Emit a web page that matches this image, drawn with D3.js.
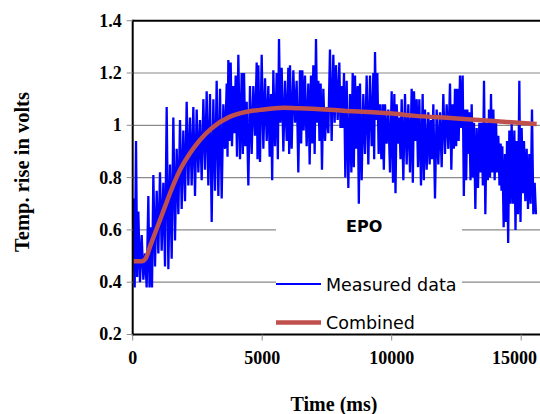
<!DOCTYPE html>
<html>
<head>
<meta charset="utf-8">
<script src="https://cdn.jsdelivr.net/npm/d3@7"></script>
<style>
  body { margin: 0; background: #fff; }
  svg { display: block; }
</style>
</head>
<body>
<div id="chart"></div>
<script>
// measured trace as [time ms, local high, following low]
const measured = [
  [25, 0.72, 0.38], [128, 0.94, 0.42], [218, 0.67, 0.40], [347, 0.58, 0.41], [475, 0.51, 0.38],
  [604, 0.73, 0.38], [694, 0.61, 0.38], [797, 0.81, 0.46], [926, 0.75, 0.51], [1054, 0.82, 0.52],
  [1183, 0.78, 0.46], [1312, 1.07, 0.45], [1441, 0.85, 0.49], [1569, 1.03, 0.56], [1698, 0.91, 0.66],
  [1827, 1.02, 0.68], [1955, 0.98, 0.71], [2084, 1.09, 0.77], [2213, 1.03, 0.77], [2341, 1.07, 0.73],
  [2470, 1.06, 0.82], [2599, 1.02, 0.79], [2728, 1.10, 0.83], [2856, 1.13, 0.77],
  [2985, 1.12, 0.63], [3114, 1.10, 0.75], [3242, 1.17, 0.73], [3371, 1.14, 0.72], [3500, 1.08, 0.91],
  [3629, 1.16, 0.88], [3693, 1.25, 0.94], [3783, 1.24, 0.92], [3886, 1.15, 0.97], [3976, 1.19, 0.88],
  [4079, 1.27, 0.87], [4208, 1.20, 0.89], [4298, 1.20, 0.92], [4401, 1.09, 0.77], [4529, 1.15, 0.89],
  [4658, 1.15, 0.96], [4787, 1.24, 0.87], [4851, 1.23, 0.86], [4980, 1.27, 0.91], [5109, 1.18, 0.94],
  [5237, 1.15, 0.88], [5340, 1.12, 0.79], [5430, 1.21, 0.92], [5559, 1.20, 0.87], [5649, 1.33, 1.01],
  [5752, 1.22, 0.90], [5881, 1.17, 0.94], [6009, 1.22, 0.89],
  [6073, 1.23, 0.91], [6202, 1.21, 1.01], [6330, 1.17, 0.82], [6459, 1.21, 0.93], [6549, 1.21, 0.98],
  [6652, 1.19, 0.92], [6781, 1.16, 0.85], [6884, 1.19, 0.93], [6974, 1.23, 0.89], [7077, 1.33, 1.01],
  [7167, 1.17, 0.94], [7257, 1.16, 0.83], [7360, 1.14, 0.94], [7489, 1.07, 0.97], [7617, 1.29, 0.94],
  [7746, 1.27, 1.01], [7849, 1.23, 1.02], [7978, 1.24, 0.99], [8068, 1.15, 0.99], [8158, 1.20, 0.80],
  [8261, 1.17, 0.76], [8390, 1.12, 0.82], [8493, 1.20, 0.84], [8583, 1.19, 0.91], [8686, 1.15, 0.70],
  [8776, 1.16, 0.79], [8904, 1.12, 0.89], [9033, 1.19, 0.85],
  [9162, 1.19, 0.92], [9291, 1.20, 0.87], [9355, 1.28, 1.02], [9445, 1.20, 0.89], [9548, 1.08, 0.87],
  [9651, 1.08, 0.83], [9741, 1.08, 0.93], [9870, 1.06, 0.82], [9999, 1.13, 0.78], [10102, 1.12, 0.74],
  [10192, 1.08, 0.93], [10295, 1.03, 0.87], [10385, 1.10, 0.79], [10513, 1.12, 0.85], [10642, 1.08, 0.82],
  [10771, 1.14, 0.78], [10861, 1.13, 0.94], [10964, 1.10, 0.84], [11067, 1.10, 0.77], [11195, 1.12, 0.79],
  [11286, 1.06, 0.83], [11414, 1.05, 0.85], [11517, 1.02, 0.87], [11607, 1.08, 0.72], [11736, 1.06, 0.85],
  [11865, 1.05, 0.84], [11993, 1.12, 0.89], [12122, 1.08, 0.91],
  [12251, 1.16, 0.83], [12354, 1.08, 0.91], [12444, 1.14, 0.92], [12534, 1.14, 0.94], [12637, 1.19, 0.99],
  [12740, 1.19, 0.73], [12830, 1.06, 0.79], [12920, 1.06, 0.89], [12997, 1.05, 0.79], [13088, 1.08, 0.80],
  [13178, 1.01, 0.68], [13281, 0.99, 0.76], [13384, 1.01, 0.82], [13474, 1.01, 0.77], [13564, 1.17, 0.66],
  [13667, 1.01, 0.79], [13757, 1.06, 0.80], [13834, 1.12, 0.82], [13924, 1.06, 0.79], [14027, 1.02, 0.82],
  [14117, 0.96, 0.77], [14207, 0.93, 0.75], [14271, 0.92, 0.61], [14374, 0.89, 0.63], [14452, 0.94, 0.55],
  [14542, 0.98, 0.70], [14632, 1.01, 0.70], [14735, 0.98, 0.60], [14825, 0.94, 0.66], [14928, 1.17, 0.63],
  [15018, 0.99, 0.74], [15108, 0.94, 0.71], [15211, 0.91, 0.68], [15314, 0.89, 0.70], [15417, 1.06, 0.66],
  [15520, 0.78, 0.66]
];

// combined fit, [time ms, volts]
const combined = [
  [0, 0.48], [350, 0.48], [500, 0.49], [668, 0.536], [861, 0.587], [1054, 0.638], [1250, 0.69],
  [1440, 0.74], [1826, 0.829], [2212, 0.893], [2598, 0.944], [3050, 0.989], [3757, 1.033],
  [4402, 1.052], [4915, 1.059], [5815, 1.067], [6460, 1.065], [8131, 1.056], [9935, 1.046],
  [10834, 1.037], [12378, 1.027], [13795, 1.017], [15598, 1.005]
];

const yTicks = [0.2, 0.4, 0.6, 0.8, 1.0, 1.2, 1.4];
const xTicks = [0, 5000, 10000, 15000];
const legendLabels = ["Measured data", "Combined"];
const annotation = "EPO";

const width = 540, height = 414;
const plot = { left: 132.7, top: 20.7, bottom: 334.5 };

const x = d3.scaleLinear().domain([0, 16000]).range([plot.left, plot.left + 16000 * 129.5 / 5000]);
const y = d3.scaleLinear().domain([0.2, 1.4]).range([plot.bottom, plot.top]);

const svg = d3.select("#chart").append("svg")
  .attr("width", width)
  .attr("height", height);

// gridlines
svg.append("g")
  .selectAll("line")
  .data(yTicks.filter(d => d > 0.2 && d < 1.4))
  .enter().append("line")
  .attr("x1", plot.left).attr("x2", width)
  .attr("y1", d => y(d)).attr("y2", d => y(d))
  .attr("stroke", "#8a8a8a")
  .attr("stroke-width", 1.2);

// white box behind the legend and label
svg.append("rect")
  .attr("x", 276).attr("y", 212)
  .attr("width", 186).attr("height", plot.bottom - 213)
  .attr("fill", "#fff");

// measured trace: each high followed by its low halfway to the next reading
const measuredPoints = [];
measured.forEach((d, i) => {
  const next = i < measured.length - 1 ? measured[i + 1][0] : d[0] + 100;
  measuredPoints.push([d[0], d[1]]);
  measuredPoints.push([(d[0] + next) / 2, d[2]]);
});

const line = d3.line().x(d => x(d[0])).y(d => y(d[1]));

svg.append("path")
  .datum(measuredPoints)
  .attr("d", line)
  .attr("fill", "none")
  .attr("stroke", "#0000ff")
  .attr("stroke-width", 2.3)
  .attr("stroke-linejoin", "miter");

svg.append("path")
  .datum(combined)
  .attr("d", line.curve(d3.curveMonotoneX))
  .attr("fill", "none")
  .attr("stroke", "#c0504d")
  .attr("stroke-width", 4.5);

// axes frame
svg.append("line")
  .attr("x1", plot.left).attr("x2", width)
  .attr("y1", plot.top).attr("y2", plot.top)
  .attr("stroke", "#000").attr("stroke-width", 2);
svg.append("line")
  .attr("x1", plot.left).attr("x2", width)
  .attr("y1", plot.bottom).attr("y2", plot.bottom)
  .attr("stroke", "#000").attr("stroke-width", 2);
svg.append("line")
  .attr("x1", plot.left).attr("x2", plot.left)
  .attr("y1", plot.top - 1).attr("y2", plot.bottom + 1)
  .attr("stroke", "#000").attr("stroke-width", 2);

// y ticks and labels
const yt = svg.append("g").selectAll("g").data(yTicks).enter().append("g");
yt.append("line")
  .attr("x1", plot.left - 6).attr("x2", plot.left)
  .attr("y1", d => y(d)).attr("y2", d => y(d))
  .attr("stroke", "#8a8a8a");
yt.append("text")
  .attr("x", plot.left - 11)
  .attr("y", d => y(d))
  .attr("dy", "0.33em")
  .attr("text-anchor", "end")
  .attr("font-family", "Liberation Serif, Times New Roman, serif")
  .attr("font-weight", "bold")
  .attr("font-size", 18)
  .text(d => d === 1 ? "1" : d3.format(".1f")(d));

// x ticks and labels
const xt = svg.append("g").selectAll("g").data(xTicks).enter().append("g");
xt.append("line")
  .attr("x1", d => x(d)).attr("x2", d => x(d))
  .attr("y1", plot.bottom).attr("y2", plot.bottom + 6)
  .attr("stroke", "#8a8a8a");
xt.append("text")
  .attr("x", d => x(d))
  .attr("y", 364)
  .attr("text-anchor", "middle")
  .attr("font-family", "Liberation Serif, Times New Roman, serif")
  .attr("font-weight", "bold")
  .attr("font-size", 18)
  .text(d => d)
  .each(function () {
    // keep the last label inside the picture, as the original does
    const box = this.getBBox();
    if (box.x + box.width > width - 3) {
      d3.select(this).attr("x", +d3.select(this).attr("x") - (box.x + box.width - (width - 3)));
    }
  });

// axis titles
svg.append("text")
  .attr("x", 334).attr("y", 411)
  .attr("text-anchor", "middle")
  .attr("font-family", "Liberation Serif, Times New Roman, serif")
  .attr("font-weight", "bold")
  .attr("font-size", 20)
  .text("Time (ms)");

svg.append("text")
  .attr("transform", "translate(29,172) rotate(-90)")
  .attr("text-anchor", "middle")
  .attr("font-family", "Liberation Serif, Times New Roman, serif")
  .attr("font-weight", "bold")
  .attr("font-size", 20.5)
  .text("Temp. rise in volts");

// annotation
svg.append("text")
  .attr("x", 346).attr("y", 232)
  .attr("font-family", "DejaVu Sans, sans-serif")
  .attr("font-weight", "bold")
  .attr("font-size", 16)
  .text(annotation);

// legend
const legend = svg.append("g").selectAll("g").data(legendLabels).enter().append("g")
  .attr("transform", (d, i) => `translate(276,${284 + i * 38.5})`);
legend.append("line")
  .attr("x1", 0).attr("x2", 45)
  .attr("stroke", (d, i) => i === 0 ? "#0000ff" : "#c0504d")
  .attr("stroke-width", (d, i) => i === 0 ? 2 : 4.5);
legend.append("text")
  .attr("x", 50).attr("y", 6.5)
  .attr("font-family", "DejaVu Sans, sans-serif")
  .attr("font-size", 17.5)
  .text(d => d);
</script>
</body>
</html>
